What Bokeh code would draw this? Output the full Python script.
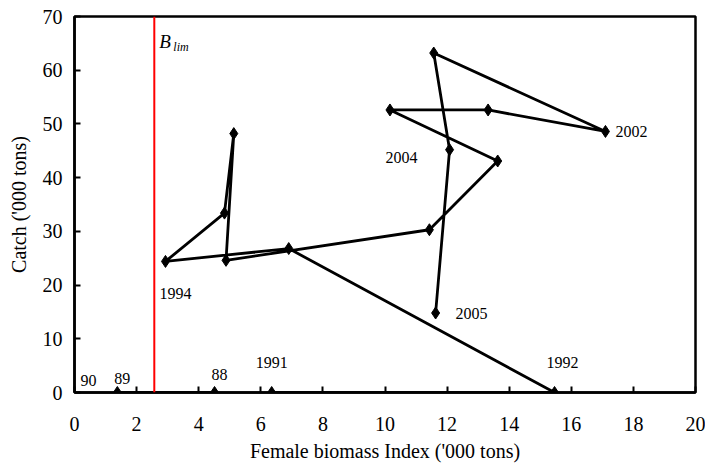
import math
from bokeh.plotting import figure
from bokeh.models import FixedTicker, Span, Range1d
from bokeh.core.properties import value
from bokeh.embed import file_html
from bokeh.resources import INLINE

# ---- data -------------------------------------------------------------
years = [1988, 1989, 1990, 1991, 1992, 1993, 1994, 1995, 1996, 1997,
         1998, 1999, 2000, 2001, 2002, 2003, 2004, 2005]
biomass = [4.51, 1.38, float("nan"), 6.35, 15.46, 6.90, 2.93, 4.83, 5.13, 4.88,
           11.43, 13.63, 10.16, 13.32, 17.10, 11.57, 12.08, 11.63]
catch = [0.0, 0.0, 0.0, 0.0, 0.0, 26.8, 24.4, 33.4, 48.2, 24.6,
         30.3, 43.1, 52.6, 52.6, 48.6, 63.2, 45.2, 14.8]
b_lim = 2.57
x_ticks = [0, 2, 4, 6, 8, 10, 12, 14, 16, 18, 20]
y_ticks = [0, 10, 20, 30, 40, 50, 60, 70]
label_years = [1990, 1989, 1988, 1991, 1992, 1994, 2002, 2004, 2005]
label_texts = ["90", "89", "88", "1991", "1992", "1994", "2002", "2004", "2005"]
# pixel offsets of each label from its point (dx right, dy up)
label_dx = [14, 5, 5, 0, 8, 10, 26, -48, 36]
label_dy = [12, 14, 18, 30, 30, -32, 0, -8, 0]

# ---- geometry ---------------------------------------------------------
W, H = 705, 465
BL, BR, BT, BB = 74, 10, 16, 73
FW, FH = W - BL - BR, H - BT - BB
X0, X1, Y0, Y1 = 0, 20, 0, 70
PX = FW / (X1 - X0)
PY = FH / (Y1 - Y0)
SERIF = "'Liberation Serif', 'Times New Roman', Times, serif"

p = figure(width=W, height=H, output_backend="svg", toolbar_location=None,
           x_range=Range1d(X0, X1), y_range=Range1d(Y0, Y1),
           min_border_left=BL, min_border_right=BR,
           min_border_top=BT, min_border_bottom=BB)
p.background_fill_color = "white"
p.border_fill_color = "white"
p.outline_line_color = "black"
p.outline_line_width = 2.5
p.grid.visible = False

for ax in (p.xaxis[0], p.yaxis[0]):
    ax.axis_line_width = 2.5
    ax.axis_line_color = "black"
    ax.major_tick_in = 6
    ax.major_tick_out = 0
    ax.major_tick_line_width = 2
    ax.minor_tick_line_color = None
    ax.major_label_text_font = SERIF
    ax.major_label_text_font_size = "20px"
    ax.major_label_text_color = "black"
    ax.major_label_text_line_height = 0.9
    ax.axis_label_text_font = SERIF
    ax.axis_label_text_font_size = "20px"
    ax.axis_label_text_font_style = "normal"
    ax.axis_label_text_color = "black"
    ax.axis_label_text_line_height = 0.9

p.xaxis.ticker = FixedTicker(ticks=x_ticks)
p.yaxis.ticker = FixedTicker(ticks=y_ticks)
p.xaxis.major_label_standoff = 24
p.yaxis.major_label_standoff = 12
p.xaxis.axis_label = "Female biomass Index ('000 tons)"
p.yaxis.axis_label = "Catch ('000 tons)"
p.xaxis.axis_label_standoff = 6
p.yaxis.axis_label_standoff = 10

# B_lim reference line
p.add_layout(Span(location=b_lim, dimension="height", line_color="#ff0000",
                  line_width=2))
p.text(x=[b_lim + 5 / PX], y=[Y1 - 25 / PY], text=["B"],
       text_font=value(SERIF), text_font_size="19px", text_font_style="italic",
       text_align="left", text_baseline="middle", text_color="black")
p.text(x=[b_lim + 19 / PX], y=[Y1 - 30 / PY], text=["lim"],
       text_font=value(SERIF), text_font_size="12px", text_font_style="italic",
       text_align="left", text_baseline="middle", text_color="black")

# trajectory
p.line(biomass, catch, line_color="black", line_width=2.8)
p.scatter(biomass, catch, marker="diamond", size=12, fill_color="black",
          line_color="black")

# year labels
lx, ly = [], []
for yr, dx, dy in zip(label_years, label_dx, label_dy):
    i = years.index(yr)
    bx = biomass[i] if not math.isnan(biomass[i]) else X0
    lx.append(bx + dx / PX)
    ly.append(catch[i] + dy / PY)
p.text(x=lx, y=ly, text=label_texts, text_font=value(SERIF),
       text_font_size="16px", text_align="center", text_baseline="middle",
       text_color="black")

open("out.html", "w").write(file_html(p, INLINE))
